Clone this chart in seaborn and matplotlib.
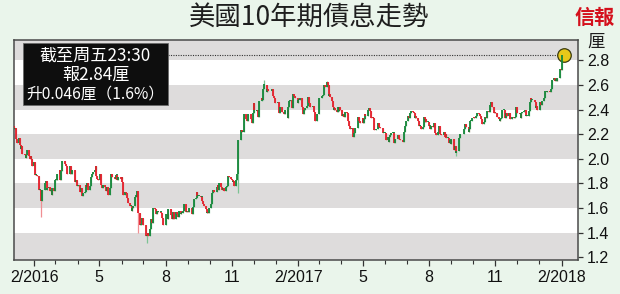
import numpy as np
import pandas as pd
import matplotlib
matplotlib.use("Agg")
import matplotlib.pyplot as plt
import matplotlib.dates as mdates
from matplotlib.ticker import FuncFormatter, FormatStrFormatter
from matplotlib.patches import Rectangle
from matplotlib import font_manager
import seaborn as sns

# ---------------- data: US 10Y yield daily closes (%) ----------------
c2016_01 = [2.24, 2.25, 2.18, 2.16, 2.13, 2.17, 2.11, 2.08, 2.10, 2.04, 2.03, 2.01, 2.03, 2.07, 2.02, 2.00, 2.02, 2.00, 1.94]
c2016_02 = [1.97, 1.87, 1.87, 1.87, 1.86, 1.75, 1.75, 1.71, 1.66, 1.75, 1.80, 1.82, 1.75, 1.76, 1.77, 1.74, 1.75, 1.71, 1.76, 1.74]
c2016_03 = [1.83, 1.84, 1.83, 1.88, 1.91, 1.83, 1.90, 1.93, 1.98, 1.97, 1.96, 1.94, 1.91, 1.88, 1.92, 1.94, 1.88, 1.91, 1.88, 1.81, 1.83, 1.78]
c2016_04 = [1.79, 1.78, 1.73, 1.76, 1.70, 1.72, 1.73, 1.79, 1.77, 1.80, 1.75, 1.78, 1.79, 1.85, 1.88, 1.89, 1.91, 1.94, 1.86, 1.84, 1.83]
c2016_05 = [1.88, 1.80, 1.79, 1.76, 1.79, 1.77, 1.77, 1.74, 1.77, 1.71, 1.76, 1.78, 1.88, 1.85, 1.85, 1.84, 1.87, 1.87, 1.83, 1.85, 1.84]
c2016_06 = [1.85, 1.81, 1.71, 1.73, 1.72, 1.71, 1.68, 1.64, 1.62, 1.62, 1.58, 1.60, 1.62, 1.69, 1.71, 1.69, 1.74, 1.56, 1.46, 1.47, 1.52, 1.49]
c2016_07 = [1.46, 1.37, 1.38, 1.40, 1.37, 1.43, 1.51, 1.48, 1.53, 1.60, 1.59, 1.55, 1.58, 1.57, 1.57, 1.57, 1.56, 1.52, 1.50, 1.46]
c2016_08 = [1.51, 1.55, 1.55, 1.51, 1.59, 1.59, 1.54, 1.51, 1.57, 1.51, 1.56, 1.57, 1.55, 1.53, 1.58, 1.55, 1.56, 1.56, 1.58, 1.63, 1.57, 1.57, 1.58]
c2016_09 = [1.57, 1.60, 1.55, 1.55, 1.61, 1.67, 1.68, 1.73, 1.70, 1.70, 1.70, 1.69, 1.69, 1.66, 1.63, 1.62, 1.59, 1.56, 1.57, 1.56, 1.60]
c2016_10 = [1.63, 1.69, 1.72, 1.75, 1.73, 1.77, 1.79, 1.75, 1.80, 1.77, 1.75, 1.76, 1.76, 1.74, 1.77, 1.78, 1.80, 1.86, 1.85, 1.84]
c2016_11 = [1.83, 1.81, 1.82, 1.78, 1.83, 1.88, 2.07, 2.15, 2.23, 2.22, 2.22, 2.29, 2.36, 2.32, 2.31, 2.36, 2.36, 2.32, 2.29, 2.37]
c2016_12 = [2.45, 2.40, 2.39, 2.40, 2.34, 2.40, 2.47, 2.49, 2.48, 2.57, 2.60, 2.60, 2.54, 2.57, 2.55, 2.55, 2.55, 2.57, 2.51, 2.49, 2.45]
c2017_01 = [2.45, 2.46, 2.37, 2.42, 2.38, 2.38, 2.38, 2.36, 2.40, 2.33, 2.42, 2.47, 2.48, 2.41, 2.47, 2.53, 2.51, 2.49, 2.49, 2.45]
c2017_02 = [2.48, 2.48, 2.49, 2.42, 2.40, 2.36, 2.40, 2.41, 2.43, 2.47, 2.50, 2.45, 2.42, 2.43, 2.42, 2.38, 2.31, 2.36, 2.36]
c2017_03 = [2.46, 2.49, 2.49, 2.51, 2.52, 2.57, 2.60, 2.58, 2.62, 2.60, 2.51, 2.53, 2.50, 2.47, 2.42, 2.40, 2.41, 2.40, 2.38, 2.42, 2.39, 2.42, 2.40]
c2017_04 = [2.35, 2.36, 2.34, 2.36, 2.38, 2.37, 2.31, 2.27, 2.24, 2.25, 2.18, 2.21, 2.24, 2.25, 2.27, 2.34, 2.31, 2.30, 2.29]
c2017_05 = [2.33, 2.29, 2.32, 2.36, 2.35, 2.39, 2.40, 2.41, 2.39, 2.33, 2.34, 2.33, 2.23, 2.23, 2.24, 2.25, 2.29, 2.26, 2.25, 2.25, 2.21, 2.21]
c2017_06 = [2.21, 2.15, 2.18, 2.14, 2.18, 2.19, 2.21, 2.21, 2.21, 2.13, 2.16, 2.16, 2.19, 2.16, 2.16, 2.15, 2.15, 2.14, 2.21, 2.22, 2.27, 2.31]
c2017_07 = [2.35, 2.33, 2.37, 2.39, 2.38, 2.37, 2.33, 2.35, 2.33, 2.31, 2.27, 2.27, 2.27, 2.24, 2.26, 2.34, 2.30, 2.32, 2.30, 2.30]
c2017_08 = [2.27, 2.27, 2.24, 2.27, 2.26, 2.29, 2.25, 2.21, 2.19, 2.22, 2.27, 2.24, 2.20, 2.19, 2.19, 2.22, 2.18, 2.20, 2.17, 2.17, 2.13, 2.15, 2.12]
c2017_09 = [2.16, 2.07, 2.10, 2.05, 2.06, 2.14, 2.17, 2.20, 2.20, 2.20, 2.23, 2.24, 2.28, 2.27, 2.26, 2.22, 2.24, 2.31, 2.31, 2.33]
c2017_10 = [2.34, 2.33, 2.33, 2.35, 2.37, 2.36, 2.35, 2.32, 2.28, 2.30, 2.30, 2.34, 2.33, 2.39, 2.38, 2.42, 2.44, 2.46, 2.42, 2.37, 2.38]
c2017_11 = [2.37, 2.37, 2.34, 2.32, 2.31, 2.32, 2.33, 2.40, 2.40, 2.38, 2.33, 2.37, 2.35, 2.37, 2.36, 2.32, 2.34, 2.33, 2.34, 2.38, 2.42]
c2017_12 = [2.37, 2.37, 2.36, 2.33, 2.37, 2.38, 2.39, 2.40, 2.35, 2.35, 2.35, 2.39, 2.46, 2.49, 2.48, 2.48, 2.46, 2.41, 2.43, 2.40]
c2018_01 = [2.46, 2.44, 2.46, 2.47, 2.49, 2.55, 2.55, 2.54, 2.55, 2.54, 2.57, 2.62, 2.64, 2.66, 2.63, 2.65, 2.63, 2.66, 2.70, 2.73, 2.72]
c2018_02 = [2.78, 2.84]

months = ["2016-01", "2016-02", "2016-03", "2016-04", "2016-05", "2016-06",
          "2016-07", "2016-08", "2016-09", "2016-10", "2016-11", "2016-12",
          "2017-01", "2017-02", "2017-03", "2017-04", "2017-05", "2017-06",
          "2017-07", "2017-08", "2017-09", "2017-10", "2017-11", "2017-12",
          "2018-01", "2018-02"]
month_closes = [c2016_01, c2016_02, c2016_03, c2016_04, c2016_05, c2016_06,
                c2016_07, c2016_08, c2016_09, c2016_10, c2016_11, c2016_12,
                c2017_01, c2017_02, c2017_03, c2017_04, c2017_05, c2017_06,
                c2017_07, c2017_08, c2017_09, c2017_10, c2017_11, c2017_12,
                c2018_01, c2018_02]

# bond-market holidays (no trading)
holidays = ["2016-01-01", "2016-01-18", "2016-02-15", "2016-03-25", "2016-05-30",
            "2016-07-04", "2016-09-05", "2016-10-10", "2016-11-11", "2016-11-24",
            "2016-12-26", "2017-01-02", "2017-01-16", "2017-02-20", "2017-04-14",
            "2017-05-29", "2017-07-04", "2017-09-04", "2017-10-09", "2017-11-23",
            "2017-12-25", "2018-01-01", "2018-01-15"]

prev_close_2015 = 2.27
# intraday extremes visible as wicks
wick_low = {"2016-02-11": 1.53, "2016-06-24": 1.40, "2016-07-06": 1.32,
            "2016-11-09": 1.72, "2017-09-08": 2.02}
wick_high = {"2016-12-15": 2.64, "2017-03-13": 2.63, "2018-02-02": 2.85}

y_ticks = [1.2, 1.4, 1.6, 1.8, 2.0, 2.2, 2.4, 2.6, 2.8]
band_edges = [(1.0, 1.4), (1.6, 1.8), (2.0, 2.2), (2.4, 2.6), (2.8, 3.2)]

title = "美國10年期債息走勢"
logo = "信報"
unit = "厘"
box_lines = ["截至周五23:30", "報2.84厘", "升0.046厘（1.6%）"]

# ---------------- build table ----------------
hol = pd.to_datetime(holidays)
dates, closes = [], []
for ym, vals in zip(months, month_closes):
    start = pd.Timestamp(ym + "-01")
    days = pd.bdate_range(start, start + pd.offsets.MonthEnd(0))
    days = days[~days.isin(hol)][:len(vals)]
    dates.extend(days)
    closes.extend(vals)

df = pd.DataFrame({"date": pd.to_datetime(dates), "close": closes})
df["open"] = df["close"].shift(1).fillna(prev_close_2015)
df["high"] = df[["open", "close"]].max(axis=1)
df["low"] = df[["open", "close"]].min(axis=1)
for d, v in wick_low.items():
    df.loc[df["date"] == pd.Timestamp(d), "low"] = v
for d, v in wick_high.items():
    df.loc[df["date"] == pd.Timestamp(d), "high"] = v
df["up"] = df["close"] >= df["open"]

# ---------------- style ----------------
sns.set_style("white")
names = {f.name for f in font_manager.fontManager.ttflist}
cjk = ["Noto Sans CJK TC", "Noto Sans CJK SC", "DejaVu Sans"]
plt.rcParams["font.family"] = cjk
if "Liberation Sans Narrow" in names:
    tick_family, tick_size = ["Liberation Sans Narrow", "DejaVu Sans"], 13
else:
    tick_family, tick_size = ["Liberation Sans", "DejaVu Sans"], 11.5

bg = "#eaf5eb"
grey = "#dedcdc"
red = "#e3202b"
green = "#15873a"
red_l = "#f08f93"
green_l = "#7cc393"

W, H = 620, 294
fig = plt.figure(figsize=(W / 100, H / 100), dpi=100, facecolor=bg)
ax = fig.add_axes([13.5 / W, 34 / H, 564.5 / W, 220 / H])
ax.set_facecolor("white")

for lo, hi in band_edges:
    ax.axhspan(lo, hi, color=grey, lw=0, zorder=0)

x = mdates.date2num(df["date"])
wcol = np.where(df["up"], green_l, red_l)
bcol = np.where(df["up"], green, red)
ax.vlines(x, df["low"], df["high"], colors=wcol, lw=0.9, zorder=2)
bot = df[["open", "close"]].min(axis=1).values
top = df[["open", "close"]].max(axis=1).values
top = np.maximum(top, bot + 0.004)
ax.vlines(x, bot, top, colors=bcol, lw=1.3, zorder=3)

# last value marker + dotted guide
last = df.iloc[-1]
sns.scatterplot(x=[mdates.date2num(last["date"]) + 1.5], y=[last["close"]], ax=ax,
                s=95, color="#e8c81a", edgecolor="#3b3b10", linewidth=0.9,
                zorder=2.5, legend=False)
ax.plot([0.274, 0.968], [last["close"], last["close"]],
        transform=ax.get_yaxis_transform(), ls=(0, (1, 1.2)), lw=0.8,
        color="#333333", zorder=1.5)

ax.set_xlim(mdates.date2num(pd.Timestamp("2016-01-03 05:00")),
            mdates.date2num(pd.Timestamp("2018-02-23 14:00")))
ax.set_ylim(1.178, 2.965)

ax.xaxis.set_major_locator(mdates.MonthLocator(bymonth=[2, 5, 8, 11]))
ax.xaxis.set_minor_locator(mdates.MonthLocator())


def fmt(v, pos):
    d = mdates.num2date(v)
    return f"2/{d.year}" if d.month == 2 else str(d.month)


ax.xaxis.set_major_formatter(FuncFormatter(fmt))
ax.set_yticks(y_ticks)
ax.yaxis.set_major_formatter(FormatStrFormatter("%.1f"))
ax.yaxis.tick_right()

ax.tick_params(axis="x", which="major", direction="out", length=4.5, width=0.9,
               color="#333333", pad=2.5, labelsize=tick_size,
               labelfontfamily=tick_family, labelcolor="#111111", bottom=True)
ax.tick_params(axis="x", which="minor", direction="out", length=2.8, width=0.8,
               color="#333333", bottom=True)
ax.tick_params(axis="y", which="major", direction="out", length=3.5, width=0.9,
               color="#333333", pad=3, labelsize=tick_size,
               labelfontfamily=tick_family, labelcolor="#111111", right=True, left=False)

for s in ax.spines.values():
    s.set_visible(True)
    s.set_color("#4a4a4a")
    s.set_linewidth(1.1)
ax.grid(False)

# texts
fig.text(309.5 / W, 1 - 18 / H, title, ha="center", va="center", fontsize=19,
         color="#1e1e1e", fontweight="medium")
fig.text(595 / W, 1 - 17 / H, logo, ha="center", va="center", fontsize=14.5,
         color="#d4101c", fontweight="heavy")
fig.text(596 / W, 1 - 42 / H, unit, ha="center", va="center", fontsize=12.5,
         color="#1e1e1e")

fig.add_artist(Rectangle((23 / W, 1 - 105 / H), 145 / W, 62 / H,
                         transform=fig.transFigure, facecolor="#0e0e0e",
                         edgecolor="#6a6a6a", lw=0.6, zorder=5))
for txt, yy, fs in zip(box_lines, [56, 74.5, 93.5], [12.3, 12.3, 11.3]):
    fig.text(95.5 / W, 1 - yy / H, txt, ha="center", va="center", fontsize=fs,
             color="white", zorder=6)

fig.savefig("out.png", dpi=100, facecolor=bg)
